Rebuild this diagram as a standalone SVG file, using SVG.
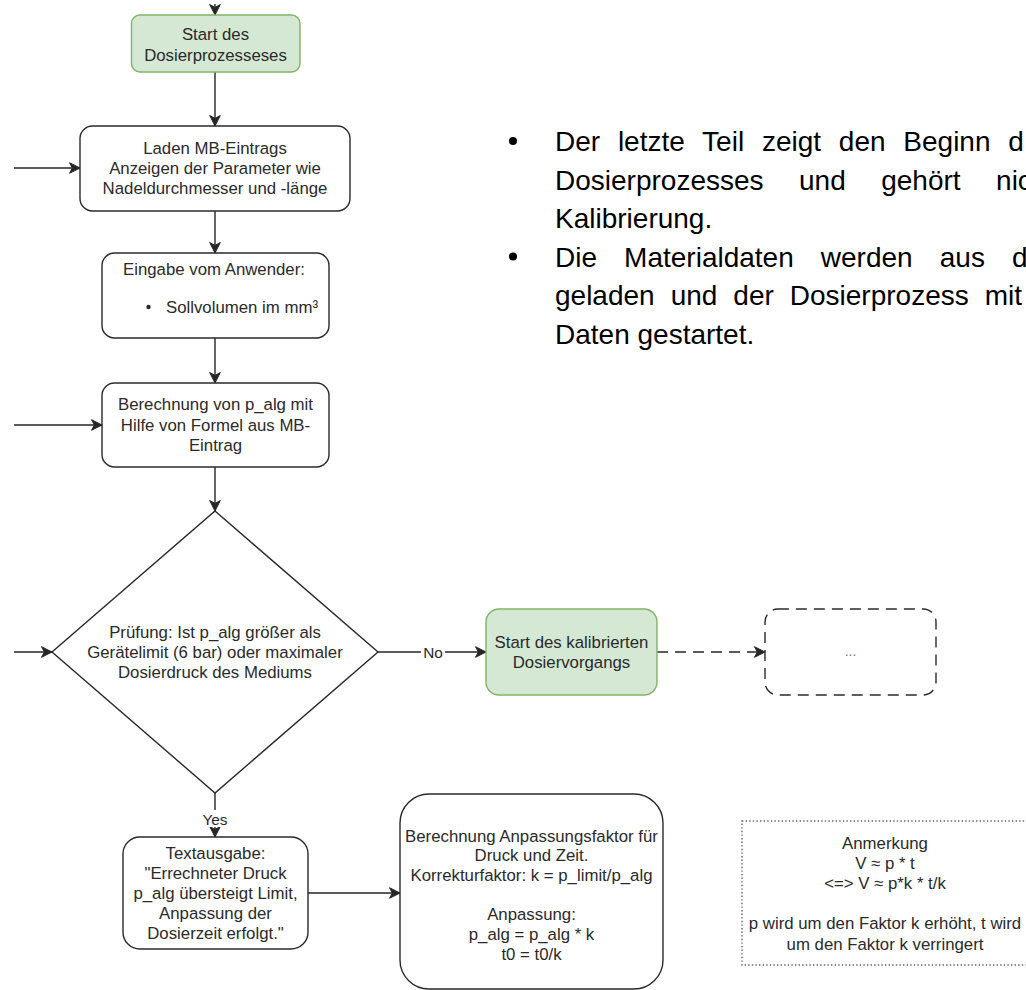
<svg xmlns="http://www.w3.org/2000/svg" width="1026" height="990" viewBox="0 0 1026 990">
  <defs>
    <marker id="arrow" viewBox="-12 -7 14 14" refX="0" refY="0" markerWidth="14" markerHeight="14" markerUnits="userSpaceOnUse" orient="auto">
      <path d="M0,0 L-10.5,-5.3 L-7.6,0 L-10.5,5.3 Z" fill="#262626" stroke="#262626" stroke-width="1"/>
    </marker>
    <style>
      .box { fill:#ffffff; stroke:#2a2a2a; stroke-width:1.4; }
      .green { fill:#d5e8d4; stroke:#82b366; stroke-width:1.4; }
      .dashed { fill:#ffffff; stroke:#2a2a2a; stroke-width:1.4; stroke-dasharray:11 7; }
      .note { fill:#ffffff; stroke:#666666; stroke-width:1.4; stroke-dasharray:1.4 2.2; }
      .t { font-family:"Liberation Sans", Arial, Helvetica, sans-serif; font-size:16.8px; fill:#2a2a2a; text-anchor:middle; }
      .lbl { font-family:"Liberation Sans", Arial, Helvetica, sans-serif; font-size:15.4px; fill:#2a2a2a; text-anchor:middle; }
      .edge { fill:none; stroke:#262626; stroke-width:1.4; marker-end:url(#arrow); }
      .edge-dash { fill:none; stroke:#262626; stroke-width:1.4; stroke-dasharray:11 7; marker-end:url(#arrow); }
      .doc { font-family:"Liberation Sans", Arial, Helvetica, sans-serif; font-size:28px; fill:#000000; }
    </style>
  </defs>

  <rect width="1026" height="990" fill="#ffffff"/>

  <!-- connectors -->
  <g id="connectors">
    <line class="edge" x1="215" y1="4" x2="215" y2="15"/>
    <line class="edge" x1="215" y1="72" x2="215" y2="126"/>
    <line class="edge" x1="14" y1="168" x2="80" y2="168"/>
    <line class="edge" x1="215" y1="211" x2="215" y2="253"/>
    <line class="edge" x1="215" y1="338" x2="215" y2="383"/>
    <line class="edge" x1="14" y1="425" x2="102" y2="425"/>
    <line class="edge" x1="215" y1="467" x2="215" y2="511"/>
    <line class="edge" x1="14" y1="652" x2="52" y2="652"/>
    <line class="edge" x1="378" y1="652" x2="486" y2="652"/>
    <line class="edge-dash" x1="657" y1="652" x2="765" y2="652"/>
    <line class="edge" x1="215" y1="793" x2="215" y2="837"/>
    <line class="edge" x1="308" y1="893" x2="400" y2="893"/>
    <!-- edge labels -->
    <rect x="421" y="643" width="24" height="18" fill="#ffffff"/>
    <text class="lbl" x="433" y="657.5">No</text>
    <rect x="201" y="810" width="28" height="17" fill="#ffffff"/>
    <text class="lbl" x="215" y="824.5">Yes</text>
  </g>

  <g id="start-dosing">
    <rect class="green" x="131.5" y="15" width="168.5" height="57" rx="8.5"/>
    <text class="t" x="215.5" y="39.5">Start des</text>
    <text class="t" x="215.5" y="61">Dosierprozesseses</text>
  </g>

  <g id="load-entry">
    <rect class="box" x="80" y="126" width="270" height="85" rx="12.5"/>
    <text class="t" x="215" y="154">Laden MB-Eintrags</text>
    <text class="t" x="215" y="174.2">Anzeigen der Parameter wie</text>
    <text class="t" x="215" y="194.4">Nadeldurchmesser und -länge</text>
  </g>

  <g id="user-input">
    <rect class="box" x="102" y="253" width="227" height="85" rx="12.5"/>
    <text class="t" x="214" y="275">Eingabe vom Anwender:</text>
    <circle cx="148.5" cy="307" r="2.2" fill="#2a2a2a"/>
    <text class="t" x="166" y="313" style="text-anchor:start">Sollvolumen im mm³</text>
  </g>

  <g id="compute-p-alg">
    <rect class="box" x="102" y="383" width="227" height="84" rx="12.5"/>
    <text class="t" x="215.5" y="410">Berechnung von p_alg mit</text>
    <text class="t" x="215.5" y="430.5">Hilfe von Formel aus MB-</text>
    <text class="t" x="215.5" y="451">Eintrag</text>
  </g>

  <g id="check-limit">
    <polygon class="box" points="215,511 378,652 215,793 52,652"/>
    <text class="t" x="215" y="637.5">Prüfung: Ist p_alg größer als</text>
    <text class="t" x="215" y="657.7">Gerätelimit (6 bar) oder maximaler</text>
    <text class="t" x="215" y="677.9">Dosierdruck des Mediums</text>
  </g>

  <g id="start-calibrated">
    <rect class="green" x="486" y="609" width="171" height="86" rx="12.9"/>
    <text class="t" x="571.5" y="647.5">Start des kalibrierten</text>
    <text class="t" x="571.5" y="668">Dosiervorgangs</text>
  </g>

  <g id="continuation">
    <rect class="dashed" x="765" y="609" width="171" height="86" rx="12.9"/>
    <text x="850.5" y="656" font-family="Liberation Sans, Arial, sans-serif" font-size="14px" fill="#777777" text-anchor="middle">...</text>
  </g>

  <g id="limit-message">
    <rect class="box" x="123" y="837" width="185" height="112" rx="16.8"/>
    <text class="t" x="215.5" y="858.6">Textausgabe:</text>
    <text class="t" x="215.5" y="878.8">"Errechneter Druck</text>
    <text class="t" x="215.5" y="899">p_alg übersteigt Limit,</text>
    <text class="t" x="215.5" y="919.2">Anpassung der</text>
    <text class="t" x="215.5" y="939.4">Dosierzeit erfolgt."</text>
  </g>

  <g id="adjust-factor">
    <rect class="box" x="400" y="794" width="263" height="195" rx="29"/>
    <text class="t" x="531.5" y="841.5">Berechnung Anpassungsfaktor für</text>
    <text class="t" x="531.5" y="861.2">Druck und Zeit.</text>
    <text class="t" x="531.5" y="880.8">Korrekturfaktor: k = p_limit/p_alg</text>
    <text class="t" x="531.5" y="920.2">Anpassung:</text>
    <text class="t" x="531.5" y="940">p_alg = p_alg * k</text>
    <text class="t" x="531.5" y="959.6">t0 = t0/k</text>
  </g>

  <g id="note">
    <rect class="note" x="742" y="821" width="290" height="144"/>
    <text class="t" x="885" y="848.5">Anmerkung</text>
    <text class="t" x="885" y="868.7">V ≈ p * t</text>
    <text class="t" x="885" y="888.9">&lt;=&gt; V ≈ p*k * t/k</text>
    <text class="t" x="885" y="929.3">p wird um den Faktor k erhöht, t wird</text>
    <text class="t" x="885" y="949.5">um den Faktor k verringert</text>
  </g>

  <!-- document text beside the chart -->
  <g id="remarks">
    <circle cx="513" cy="141" r="4" fill="#000000"/>
    <text class="doc" x="555" y="151" word-spacing="10">Der letzte Teil zeigt den Beginn d</text>
    <text class="doc" x="555" y="189.5" word-spacing="27.7">Dosierprozesses und gehört nic</text>
    <text class="doc" x="555" y="228">Kalibrierung.</text>
    <circle cx="513" cy="256.5" r="4" fill="#000000"/>
    <text class="doc" x="555" y="266.5" word-spacing="19.3">Die Materialdaten werden aus d</text>
    <text class="doc" x="555" y="305" word-spacing="8.2">geladen und der Dosierprozess mit</text>
    <text class="doc" x="555" y="343.5">Daten gestartet.</text>
  </g>
</svg>
